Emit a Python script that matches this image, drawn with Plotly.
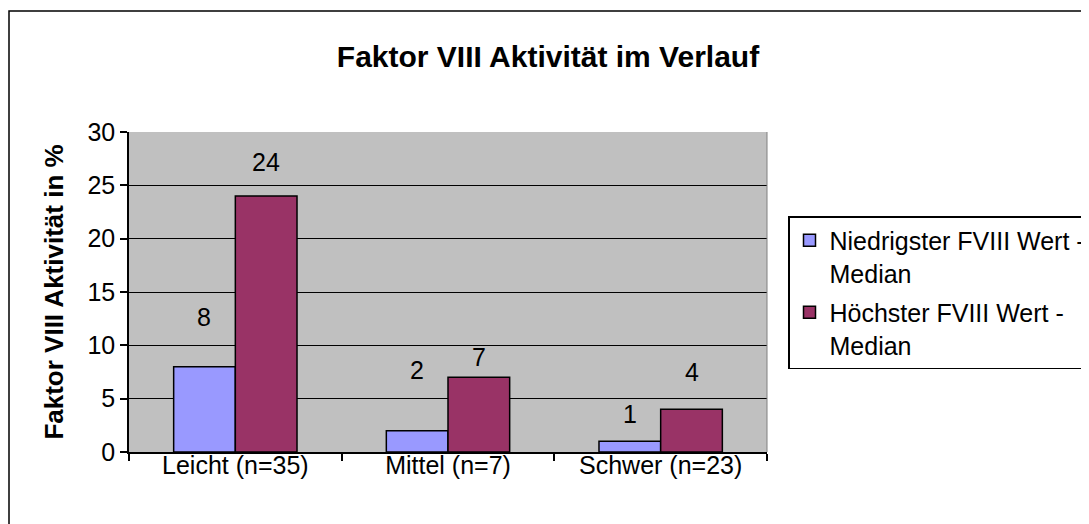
import plotly.graph_objects as go

categories = ["Leicht (n=35)", "Mittel (n=7)", "Schwer (n=23)"]
niedrigster = [8, 2, 1]
hoechster = [24, 7, 4]
series_names = ["Niedrigster FVIII Wert -<br>Median", "Höchster FVIII Wert -<br>Median"]

# page body has an 8px margin, so the figure is 8px smaller and placed 8px up/left
W, H = 1081, 516
L, R, T, B = 121, 322, 124, 72
PW, PH = W - L - R, H - T - B
FONT = "Liberation Sans, Arial, sans-serif"

fig = go.Figure()
fig.add_trace(go.Bar(
    x=categories, y=niedrigster, name=series_names[0], legendgroup="a",
    marker=dict(color="#9999FF", line=dict(color="black", width=1.5))
))
fig.add_trace(go.Bar(
    x=categories, y=hoechster, name=series_names[1], legendgroup="b",
    marker=dict(color="#993366", line=dict(color="black", width=1.5))
))

# data labels, hand placed in the original
label_shift = [[50, 61, 27], [34, 20, 37]]
bar_px = PW / 3 * 0.58 / 2
for s, (vals, side) in enumerate([(niedrigster, -1), (hoechster, 1)]):
    for i, v in enumerate(vals):
        fig.add_annotation(
            x=categories[i], y=v, text=str(v), showarrow=False,
            xshift=side * bar_px / 2, yshift=label_shift[s][i],
            yanchor="middle", font=dict(size=25, color="black", family=FONT)
        )

# outer chart border
fig.add_shape(
    type="rect", xref="paper", yref="paper",
    x0=(1 - L) / PW, x1=(W + 5 - L) / PW,
    y0=(H - B - (H + 5)) / PH, y1=(H - B - 3) / PH,
    line=dict(color="black", width=1.5), fillcolor="rgba(0,0,0,0)", layer="below"
)
# faint right edge of plot area
fig.add_shape(
    type="line", xref="paper", yref="paper", x0=1, x1=1, y0=0, y1=1,
    line=dict(color="#808080", width=1)
)

fig.update_layout(
    width=W, height=H,
    margin=dict(l=L, r=R, t=T, b=B, autoexpand=False),
    paper_bgcolor="white", plot_bgcolor="#C0C0C0",
    font=dict(family=FONT, size=25, color="black"),
    title=dict(text="<b>Faktor VIII Aktivität im Verlauf</b>", x=540 / W, xanchor="center",
               y=1 - 48 / H, yanchor="middle", font=dict(size=30)),
    barmode="group", bargap=0.42, bargroupgap=0,
    showlegend=True,
    legend=dict(
        x=(780 - L) / PW, y=(H - B - 208) / PH,
        xanchor="left", yanchor="top", valign="top",
        bordercolor="black", borderwidth=1.5, bgcolor="white",
        font=dict(size=25), tracegroupgap=4, itemwidth=30
    ),
    xaxis=dict(
        showline=True, linecolor="black", linewidth=1.5,
        ticks="outside", tickson="boundaries", ticklen=7, tickcolor="black", tickwidth=1.5,
        showgrid=False, tickfont=dict(size=25), ticklabelstandoff=-10
    ),
    yaxis=dict(
        range=[0, 30], dtick=5, showline=True, linecolor="black", linewidth=1.5,
        ticks="outside", ticklen=7, tickcolor="black", tickwidth=1.5,
        showgrid=True, gridcolor="black", gridwidth=1.2, zeroline=False,
        title=dict(text="<b>Faktor VIII Aktivität in %</b>", font=dict(size=26), standoff=16),
        tickfont=dict(size=25)
    ),
)

fig.write_html("out.html")
